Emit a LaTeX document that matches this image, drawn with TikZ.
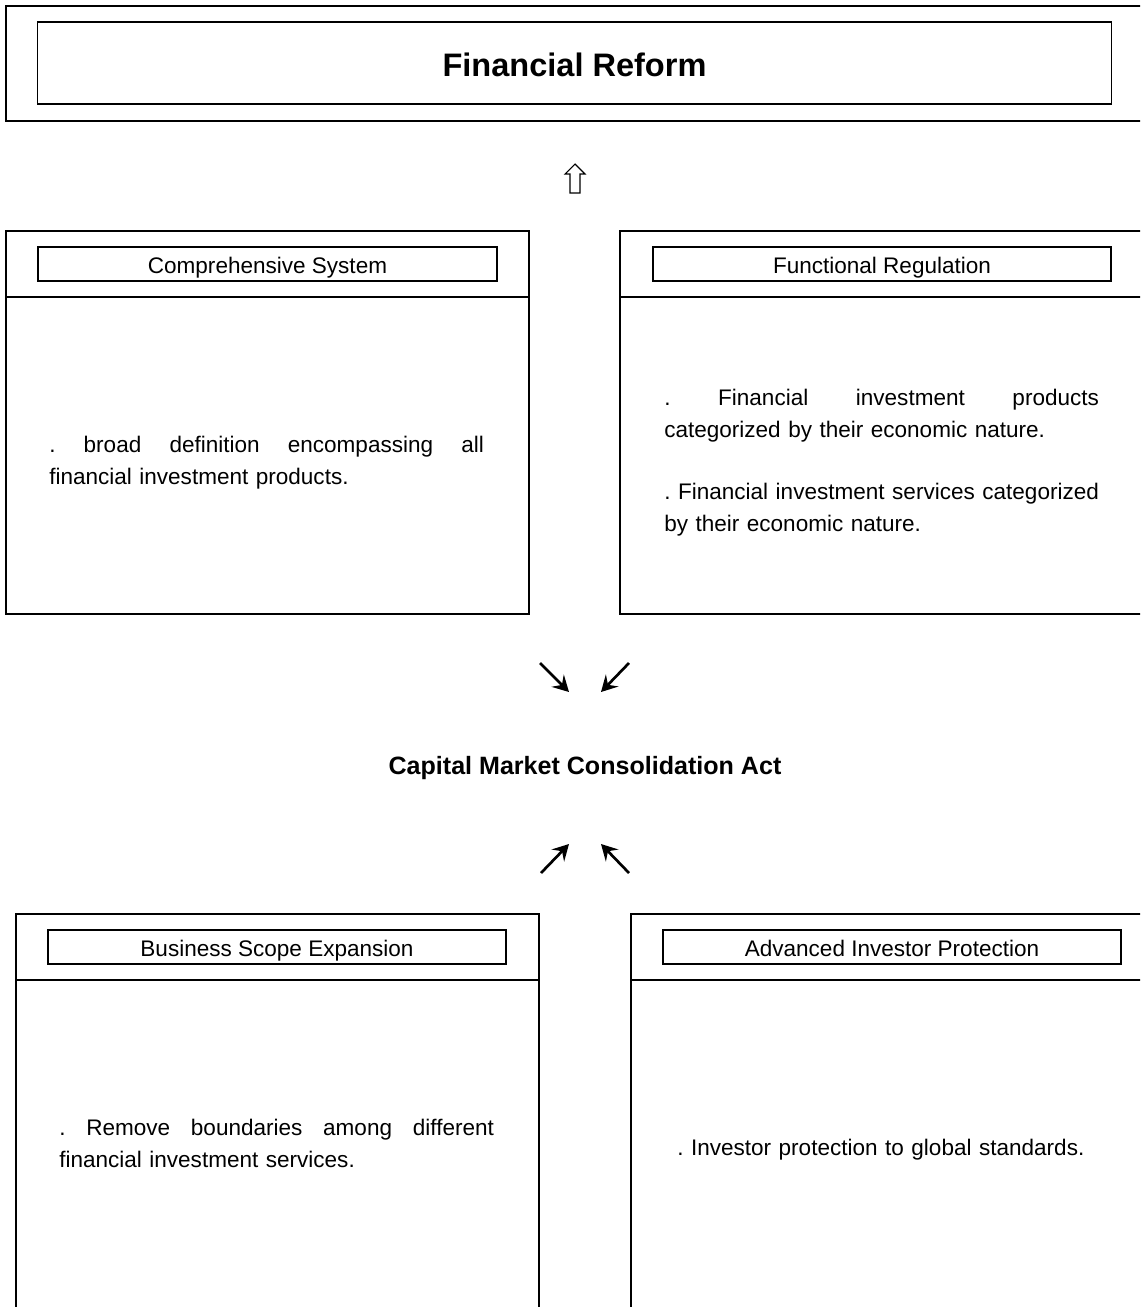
\documentclass[tikz,border=0pt]{standalone}
\usepackage{fontspec}
\setmainfont{Liberation Sans}
\usetikzlibrary{arrows.meta}
\newcommand{\jl}[1]{\noindent\hbox to \hsize{#1}\par}
\begin{document}
\frenchspacing
\begin{tikzpicture}[x=0.75pt,y=-0.75pt,
  frame/.style={draw=black,line width=0.9pt},
  titlebox/.style={draw=black,line width=0.9pt,inner sep=0pt,text height=13.5pt,text depth=0pt,font=\fontsize{16.9pt}{20pt}\selectfont},
  bodytext/.style={inner sep=0pt,anchor=west,text width=326pt,align=left,font=\fontsize{16.9pt}{24pt}\selectfont\frenchspacing},
  diag/.style={line width=2pt,-{Stealth[length=12pt,width=13pt,inset=4.5pt]}},
  hollow/.style={draw=black,line width=0.8pt,fill=white}]
\useasboundingbox (0,0) rectangle (1140,1307);
\clip (0,0) rectangle (1140,1307);
% top box
\draw[frame] (6,6) rectangle (1160,121);
\node[titlebox,minimum width=805.5pt,minimum height=61.5pt,text height=20.2pt,font=\fontsize{24.4pt}{28pt}\selectfont\bfseries] (reform) at (574.5,63) {Financial Reform};
% hollow up arrow
\coordinate (uptip) at (575,164);
\draw[hollow] (570,193) -- (570,174) -- (565,174) -- (uptip) -- (585,174) -- (580,174) -- (580,193) -- cycle;
% comprehensive system
\draw[frame] (6,231) rectangle (529,614);
\draw[frame] (6,297) -- (529,297);
\node[titlebox,minimum width=344.25pt,minimum height=25.5pt] (comp) at (267.5,264) {Comprehensive System};
\node[bodytext] (comptext) at (49,463) {\jl{.\hfill broad\hfill definition\hfill encompassing\hfill all}financial investment products.};
% functional regulation
\draw[frame] (620,231) rectangle (1160,614);
\draw[frame] (620,297) -- (1160,297);
\node[titlebox,minimum width=343.5pt,minimum height=25.5pt] (func) at (882,264) {Functional Regulation};
\node[bodytext] (functext) at (664,463) {\jl{.\hfill Financial\hfill investment\hfill products}categorized by their economic nature.\par\vspace{22.5pt}\jl{.\hfill Financial\hfill investment\hfill services\hfill categorized}by their economic nature.};
% arrows down
\coordinate (a1s) at (540,663); \coordinate (a1e) at (569,692);
\coordinate (a2s) at (629,663); \coordinate (a2e) at (601,692);
\draw[diag] (a1s) -- (a1e);
\draw[diag] (a2s) -- (a2e);
% center title
\node[inner sep=0pt,font=\fontsize{18.8pt}{22pt}\selectfont\bfseries] (cmca) at (585,768) {Capital Market Consolidation Act};
% arrows up
\coordinate (b1s) at (541,873); \coordinate (b1e) at (569,844);
\coordinate (b2s) at (629,873); \coordinate (b2e) at (601,844);
\draw[diag] (b1s) -- (b1e);
\draw[diag] (b2s) -- (b2e);
% business scope
\draw[frame] (16,914) rectangle (539,1330);
\draw[frame] (16,980) -- (539,980);
\node[titlebox,minimum width=343.5pt,minimum height=25.5pt] (bus) at (277,947) {Business Scope Expansion};
\node[bodytext] (bustext) at (59,1143) {\jl{.\hfill Remove\hfill boundaries\hfill among\hfill different}financial investment services.};
% advanced investor protection
\draw[frame] (631,914) rectangle (1160,1330);
\draw[frame] (631,980) -- (1160,980);
\node[titlebox,minimum width=343.5pt,minimum height=25.5pt] (adv) at (892,947) {Advanced Investor Protection};
\node[bodytext] (advtext) at (677,1150) {. Investor protection to global standards.};
\end{tikzpicture}
\end{document}
